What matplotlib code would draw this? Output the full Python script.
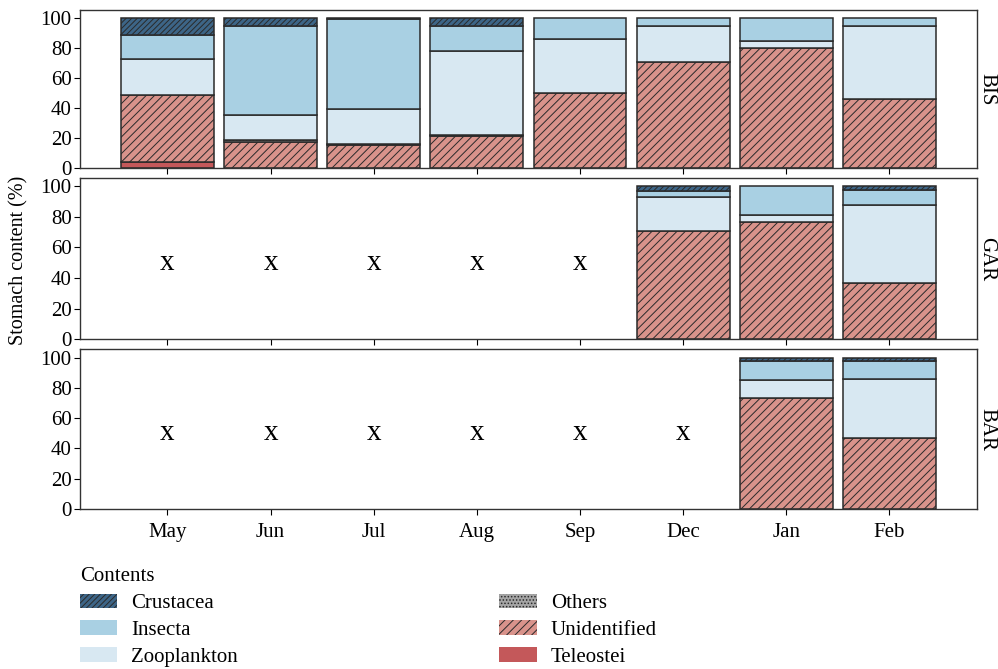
import numpy as np
import matplotlib
matplotlib.use("Agg")
import matplotlib.pyplot as plt
from matplotlib.patches import Patch

plt.rcParams['font.family'] = ['Liberation Serif', 'DejaVu Serif']
plt.rcParams['hatch.linewidth'] = 0.7

months = ['May', 'Jun', 'Jul', 'Aug', 'Sep', 'Dec', 'Jan', 'Feb']
sites = ['BIS', 'GAR', 'BAR']

# stacked bottom -> top; None = no sample
teleostei = {
    'BIS': [4, 0, 0, 0, 0, 0, 0, 0],
    'GAR': [None, None, None, None, None, 0, 0, 0],
    'BAR': [None, None, None, None, None, None, 0, 0],
}
unidentified = {
    'BIS': [45, 17, 15.3, 21, 50, 71, 80, 46],
    'GAR': [None, None, None, None, None, 71, 77, 37],
    'BAR': [None, None, None, None, None, None, 73, 47],
}
others = {
    'BIS': [0, 1.5, 1, 1, 0, 0, 0, 0],
    'GAR': [None, None, None, None, None, 0, 0, 0],
    'BAR': [None, None, None, None, None, None, 0, 0],
}
zooplankton = {
    'BIS': [24, 17, 23, 56, 36, 24, 5, 49],
    'GAR': [None, None, None, None, None, 22, 4, 51],
    'BAR': [None, None, None, None, None, None, 12, 39],
}
insecta = {
    'BIS': [16, 59, 60, 17, 14, 5, 15, 5],
    'GAR': [None, None, None, None, None, 4, 19, 9.5],
    'BAR': [None, None, None, None, None, None, 13, 12],
}
crustacea = {
    'BIS': [11, 5.5, 0.7, 5, 0, 0, 0, 0],
    'GAR': [None, None, None, None, None, 3, 0, 2.5],
    'BAR': [None, None, None, None, None, None, 2, 2],
}

layers = [
    ('Teleostei', teleostei, '#c4585a', None),
    ('Unidentified', unidentified, '#d9938b', '////'),
    ('Others', others, '#a5a5a5', '.....'),
    ('Zooplankton', zooplankton, '#d8e8f2', None),
    ('Insecta', insecta, '#a9d0e3', None),
    ('Crustacea', crustacea, '#3d6587', '//////'),
]

edge = '#2a2a2a'
fig = plt.figure(figsize=(9.98, 6.69), dpi=100)
left, width = 0.080, 0.899
boxes = [(0.749, 0.236), (0.493, 0.241), (0.239, 0.239)]
x = np.arange(len(months))

for i, site in enumerate(sites):
    bottom_f, h = boxes[i]
    ax = fig.add_axes([left, bottom_f, width, h])
    base = np.zeros(len(months))
    missing = [v is None for v in unidentified[site]]
    for name, data, color, hatch in layers:
        vals = np.array([0 if v is None else v for v in data[site]], dtype=float)
        idx = [j for j in range(len(months)) if not missing[j] and vals[j] > 0]
        if idx:
            ax.bar(x[idx], vals[idx], bottom=base[idx], width=0.9,
                   color=color, edgecolor=edge, linewidth=1.1, hatch=hatch)
        base += vals
    for j in range(len(months)):
        if missing[j]:
            ax.text(x[j], 50, 'x', ha='center', va='center', fontsize=21)
    ax.set_xlim(-0.85, 7.85)
    ax.set_ylim(0, 105.5)
    ax.set_yticks([0, 20, 40, 60, 80, 100])
    ax.set_xticks(x)
    ax.tick_params(axis='both', labelsize=15, length=4, width=0.8, pad=2)
    for s in ax.spines.values():
        s.set_linewidth(1.0)
        s.set_color('#333333')
    if i < 2:
        ax.set_xticklabels([])
    else:
        ax.set_xticklabels(months)
        ax.tick_params(axis='x', pad=6)
    fig.text(0.9885, bottom_f + h / 2, site, rotation=270, ha='center',
             va='center', fontsize=15)

fig.text(0.019, 0.611, 'Stomach content (%)', rotation=90, ha='center',
         va='center', fontsize=14.5)

legend_order = ['Crustacea', 'Insecta', 'Zooplankton', 'Others',
                'Unidentified', 'Teleostei']
lookup = {name: (color, hatch) for name, _, color, hatch in layers}
handles = []
for name in legend_order:
    color, hatch = lookup[name]
    handles.append(Patch(facecolor=color, edgecolor=edge if hatch else color,
                         linewidth=0, hatch=hatch, label=name))
leg = fig.legend(handles=handles, ncol=2, loc='upper left',
                 bbox_to_anchor=(0.061, 0.18), frameon=False,
                 title='Contents', fontsize=15, title_fontsize=15,
                 alignment='left', columnspacing=12.55, handlelength=1.8,
                 handleheight=0.7, labelspacing=0.35, handletextpad=0.67)

fig.savefig('out.png', dpi=100)
